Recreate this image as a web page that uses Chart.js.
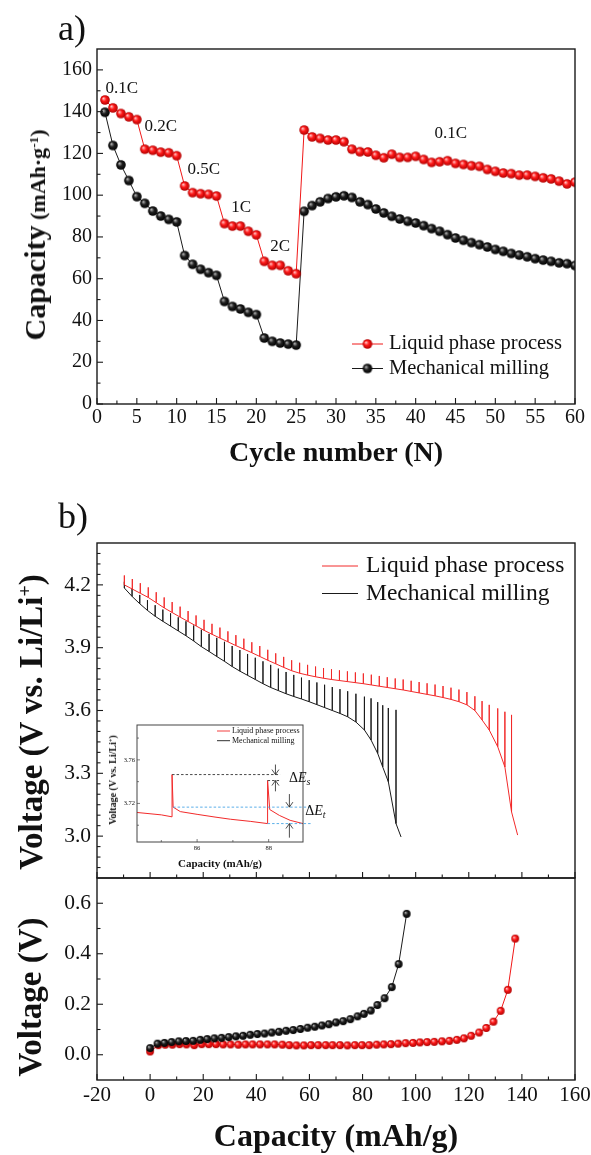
<!DOCTYPE html>
<html><head><meta charset="utf-8">
<script src="https://cdn.jsdelivr.net/npm/chart.js@4.4.1/dist/chart.umd.min.js"></script>
<style>
html,body{margin:0;padding:0;background:#fff;}
body{width:591px;height:1155px;position:relative;overflow:hidden;font-family:"Liberation Serif","Times New Roman",serif;color:#111;}
canvas{position:absolute;}
.t{position:absolute;white-space:nowrap;line-height:1;z-index:5;}
.r{transform:translate(-50%,-50%) rotate(-90deg);}
.c{transform:translate(-50%,-50%);}
sup{font-size:0.6em;vertical-align:0.55em;line-height:0;}
</style></head><body>
<canvas id="ca" width="591" height="440" style="left:0;top:0"></canvas>
<canvas id="cb" width="591" height="380" style="left:0;top:500px"></canvas>
<canvas id="cc" width="591" height="250" style="left:0;top:870px"></canvas>
<canvas id="ci" width="240" height="160" style="left:100px;top:718px"></canvas>

<div class="t" style="left:58px;top:10px;font-size:36px;">a)</div>
<div class="t" style="left:58px;top:498px;font-size:36px;">b)</div>
<div class="t c" style="left:336px;top:452px;font-size:28px;font-weight:bold;">Cycle number (N)</div>
<div class="t r" style="left:35px;top:235px;font-weight:bold;"><span style="font-size:30px">Capacity</span><span style="font-size:22px"> (mAh·g<sup>-1</sup>)</span></div>
<div class="t r" style="left:31px;top:722px;font-size:33px;font-weight:bold;">Voltage (V vs. Li/Li<sup>+</sup>)</div>
<div class="t r" style="left:30px;top:997px;font-size:33px;font-weight:bold;">Voltage (V)</div>
<div class="t c" style="left:336px;top:1135px;font-size:32px;font-weight:bold;">Capacity (mAh/g)</div>
<div class="t r" style="left:113px;top:780px;font-size:10px;font-weight:bold;">Voltage (V vs. Li/Li<sup>+</sup>)</div>
<div class="t c" style="left:220px;top:863px;font-size:11px;font-weight:bold;">Capacity (mAh/g)</div>

<script>
// ---------- Panel a: rate capability ----------
const cycles = [1,2,3,4,5,6,7,8,9,10,11,12,13,14,15,16,17,18,19,20,21,22,23,24,25,26,27,28,29,30,31,32,33,34,35,36,37,38,39,40,41,42,43,44,45,46,47,48,49,50,51,52,53,54,55,56,57,58,59,60];
const liquidCap = [145.6,141.8,139.1,137.5,136.2,122.0,121.5,120.6,120.3,118.9,104.4,101.2,100.7,100.4,99.6,86.4,85.2,85.2,82.7,81.0,68.3,66.4,66.4,63.8,62.4,
  131.2,127.9,127.2,126.4,126.4,125.6,122.0,120.8,120.7,119.1,117.9,119.6,118.1,118.1,118.6,117.1,115.7,116.0,116.5,115.2,114.7,114.1,113.8,112.3,111.4,110.6,110.3,109.6,109.6,109.0,108.3,107.8,106.7,105.4,106.2];
const millingCap = [139.7,123.8,114.5,107.0,99.3,96.1,92.4,90.0,88.4,87.2,71.1,66.9,64.5,62.9,61.6,49.1,46.7,45.5,43.9,42.8,31.6,30.0,29.2,28.7,28.2,
  92.3,95.0,96.8,98.4,99.2,99.7,98.9,96.8,95.5,93.4,91.5,89.9,88.6,87.5,86.7,85.4,84.0,82.7,81.1,79.5,78.4,77.3,76.3,75.2,74.0,73.1,72.1,71.3,70.5,69.6,68.9,68.3,67.6,67.2,66.3];
const rateLabels = [['0.1C',3.1,150.9],['0.2C',8.0,132.7],['0.5C',13.4,112.1],['1C',18.1,94.3],['2C',23.0,75.2],['0.1C',44.4,129.3]];
const aXTicks = [0,5,10,15,20,25,30,35,40,45,50,55,60];
const aXMinor = [2.5,7.5,12.5,17.5,22.5,27.5,32.5,37.5,42.5,47.5,52.5,57.5];
const aYTicks = [0,20,40,60,80,100,120,140,160];
const aYMinor = [10,30,50,70,90,110,130,150];

// ---------- Panel b (top): GITT curves ----------
const liqGCap = [-9.7,-6.7,-3.7,-0.7,2.3,5.3,8.3,11.3,14.3,17.3,20.3,23.3,26.3,29.3,32.3,35.3,38.3,41.3,44.3,47.3,50.3,53.3,56.3,59.3,62.3,65.3,68.3,71.3,74.3,77.3,80.3,83.3,86.3,89.3,92.3,95.3,98.3,101.3,104.3,107.3,110.3,113.3,116.3,119.3,122.3,125.0,127.7,130.9,133.6,136.1,138.4];
const liqGBase = [4.200,4.180,4.160,4.140,4.115,4.090,4.068,4.046,4.025,4.004,3.983,3.964,3.946,3.928,3.910,3.893,3.876,3.858,3.840,3.823,3.806,3.790,3.778,3.769,3.761,3.754,3.748,3.743,3.738,3.733,3.728,3.722,3.716,3.710,3.704,3.698,3.691,3.684,3.677,3.670,3.662,3.653,3.642,3.627,3.600,3.555,3.507,3.427,3.330,3.116,3.005];
const liqGTop = [4.245,4.228,4.208,4.188,4.165,4.140,4.118,4.096,4.075,4.054,4.033,4.014,3.996,3.978,3.960,3.943,3.926,3.908,3.890,3.873,3.856,3.840,3.828,3.818,3.810,3.803,3.797,3.792,3.787,3.782,3.777,3.771,3.765,3.759,3.753,3.748,3.742,3.736,3.730,3.724,3.717,3.709,3.700,3.688,3.668,3.645,3.627,3.610,3.594,3.579,3.005];
const milGCap = [-9.7,-6.8,-3.9,-1.0,1.9,4.8,7.7,10.6,13.5,16.4,19.3,22.2,25.1,28.0,30.9,33.8,36.7,39.6,42.5,45.4,48.3,51.2,54.1,57.0,59.9,62.8,65.7,68.6,71.5,74.4,77.5,80.7,83.2,85.7,87.6,89.7,92.6,94.5];
const milGBase = [4.185,4.145,4.110,4.078,4.050,4.026,4.003,3.980,3.957,3.932,3.905,3.882,3.858,3.835,3.810,3.788,3.768,3.748,3.728,3.710,3.695,3.680,3.667,3.655,3.642,3.628,3.614,3.600,3.586,3.570,3.545,3.507,3.459,3.395,3.330,3.260,3.060,2.996];
const milGTop = [4.215,4.182,4.152,4.127,4.103,4.082,4.064,4.045,4.026,4.006,3.986,3.966,3.947,3.928,3.908,3.889,3.870,3.852,3.835,3.818,3.800,3.784,3.770,3.757,3.745,3.734,3.723,3.712,3.702,3.692,3.680,3.666,3.658,3.640,3.625,3.612,3.603,2.996];
const bXTicks = [-20,0,20,40,60,80,100,120,140,160];
const bXMinor = [-10,10,30,50,70,90,110,130,150];
const bYTicks = [3.0,3.3,3.6,3.9,4.2];
const bYMinor = [2.85,2.9,2.95,3.05,3.1,3.15,3.2,3.25,3.35,3.4,3.45,3.5,3.55,3.65,3.7,3.75,3.8,3.85,3.95,4.0,4.05,4.1,4.15,4.25,4.3,4.35];

// ---------- Inset ----------
const insetCap = [84.32,85.00,85.30,85.30,85.33,85.53,86.00,86.50,86.93,87.50,87.97,87.97,88.03,88.30,88.60,88.96];
const insetV   = [3.7117,3.7095,3.7077,3.7465,3.7166,3.7125,3.7100,3.7075,3.7055,3.7035,3.7015,3.7410,3.7144,3.7090,3.7045,3.7015];
const insetDashBlack = [[85.30,88.32,3.7465],[87.97,88.32,3.7410]];
const insetDashBlue = [[85.33,89.20,3.7166],[87.97,89.20,3.7015]];
const insetArrows = [[88.19,3.7557,3.7465],[88.19,3.7311,3.7410],[88.58,3.7286,3.7166],[88.58,3.6886,3.7015]];
const insetDeltaE = [['s',88.57,3.7434],['t',89.02,3.7129]];
const iXTicks = [86,88];
const iXMinor = [85,87];
const iYTicks = [3.72,3.76];
const iYMinor = [3.70,3.74,3.78];

// ---------- Panel b (bottom) ----------
const liquidX = [0,3.1,5.7,8.4,11.1,13.7,16.6,19.4,22.1,24.8,27.5,30.3,33.2,35.9,38.6,41.4,44.2,46.9,49.8,52.4,55.1,57.9,60.6,63.3,66.1,68.7,71.5,74.3,77.1,79.8,82.5,85.3,88.0,90.7,93.4,96.2,99.0,101.6,104.3,107.0,109.9,112.7,115.5,118.2,120.9,123.9,126.6,129.3,132.0,134.7,137.5];
const liquidV = [0.013,0.038,0.040,0.040,0.042,0.041,0.038,0.042,0.042,0.042,0.041,0.041,0.040,0.041,0.041,0.041,0.041,0.041,0.040,0.038,0.037,0.037,0.038,0.038,0.038,0.038,0.038,0.037,0.038,0.038,0.038,0.040,0.041,0.042,0.044,0.046,0.047,0.049,0.050,0.051,0.053,0.055,0.059,0.065,0.075,0.088,0.106,0.131,0.174,0.257,0.460];
const millingX = [0,2.8,5.4,8.1,10.8,13.5,16.2,18.9,21.5,24.2,26.9,29.6,32.3,35.0,37.7,40.4,43.1,45.8,48.5,51.2,53.9,56.6,59.3,62.0,64.7,67.3,70.0,72.7,75.4,78.1,80.5,83.1,85.6,88.3,91.0,93.6,96.6];
const millingV = [0.026,0.044,0.047,0.050,0.053,0.054,0.055,0.059,0.062,0.065,0.067,0.070,0.073,0.075,0.079,0.082,0.084,0.088,0.091,0.095,0.098,0.102,0.107,0.111,0.116,0.121,0.128,0.133,0.141,0.152,0.162,0.175,0.197,0.224,0.268,0.359,0.558];
const cYTicks = [0,0.2,0.4,0.6];
const cYMinor = [0.1,0.3,0.5];

const seriesNames = ['Liquid phase process','Mechanical milling'];
const RED = '#f01818', BLK = '#1a1a1a';

// ---------- helpers ----------
Chart.defaults.font.family = '"Liberation Serif","Times New Roman",serif';
Chart.defaults.color = '#111';

function sphere(r, hi, mid, edge){
  const d = Math.ceil(r*2)+2, cv = document.createElement('canvas');
  cv.width = cv.height = d;
  const g = cv.getContext('2d'), c = d/2;
  const gr = g.createRadialGradient(c-r*0.35, c-r*0.35, r*0.05, c, c, r);
  gr.addColorStop(0, hi); gr.addColorStop(0.45, mid); gr.addColorStop(1, edge);
  g.fillStyle = gr; g.beginPath(); g.arc(c, c, r, 0, Math.PI*2); g.fill();
  return cv;
}
const sphRA = sphere(4.8,'#ffc8c8','#ff1a1a','#b00000');
const sphKA = sphere(4.8,'#b8b8b8','#202020','#000000');
const sphRC = sphere(3.9,'#ffc8c8','#ff1a1a','#b00000');
const sphKC = sphere(3.9,'#b8b8b8','#202020','#000000');

function pts(xs, ys){ return xs.map((x,i)=>({x:x, y:ys[i]})); }
function gitt(cap, base, top){
  const p = [];
  cap.forEach((c,i)=>{ p.push({x:c,y:base[i]}); if (top[i]!==base[i]) { p.push({x:c,y:top[i]}); p.push({x:c,y:base[i]}); } });
  return p;
}

function makeFrame(id, cfg){
  return { id:id, afterDatasetsDraw(chart){
    const ctx = chart.ctx, a = chart.chartArea;
    ctx.save();
    ctx.strokeStyle = cfg.color || '#1a1a1a';
    ctx.lineWidth = cfg.lw || 1.4;
    ctx.strokeRect(a.left, a.top, a.right-a.left, a.bottom-a.top);
    ctx.lineWidth = cfg.tlw || 1.1;
    cfg.ticks.forEach(t => {
      const s = chart.scales[t.axis];
      t.values.forEach(v => {
        const p = s.getPixelForValue(v);
        ctx.beginPath();
        if (t.axis === 'x') { ctx.moveTo(p, a.bottom); ctx.lineTo(p, a.bottom - t.len); }
        else { ctx.moveTo(a.left, p); ctx.lineTo(a.left + t.len, p); }
        ctx.stroke();
      });
    });
    ctx.restore();
  }};
}
function makeLegend(id, cfg){
  return { id:id, afterDraw(chart){
    const ctx = chart.ctx;
    ctx.save();
    cfg.items.forEach((it, i) => {
      const y = cfg.y + i*cfg.dy;
      ctx.strokeStyle = it.color; ctx.lineWidth = cfg.lw || 1;
      ctx.beginPath(); ctx.moveTo(cfg.x0, y); ctx.lineTo(cfg.x1, y); ctx.stroke();
      if (it.img) ctx.drawImage(it.img, (cfg.x0+cfg.x1)/2 - it.img.width/2, y - it.img.height/2);
      ctx.fillStyle = '#111'; ctx.font = cfg.font; ctx.textBaseline = 'middle'; ctx.textAlign = 'left';
      ctx.fillText(it.label, cfg.tx, y);
    });
    ctx.restore();
  }};
}
function axisCfg(o){
  const c = {
    type:'linear', min:o.min, max:o.max,
    afterBuildTicks: s => { s.ticks = o.major.map(v => ({value:v})); },
    grid:{display:false, drawTicks:false}, border:{display:false},
    ticks:{display: o.show !== false, font:{size:o.size}, color:'#111', padding:o.pad, autoSkip:false, maxRotation:0, minRotation:0, includeBounds:false, callback: o.fmt}
  };
  if (o.dir === 'x') c.afterFit = s => { s.height = o.thick; s.paddingLeft = 0; s.paddingRight = 0; };
  else c.afterFit = s => { s.width = o.thick; s.paddingTop = 0; s.paddingBottom = 0; };
  return c;
}
const baseOpts = { responsive:false, animation:false, events:[], plugins:{legend:{display:false}, tooltip:{enabled:false}} };

// ---------- Chart a ----------
const notesA = { id:'notesA', afterDatasetsDraw(chart){
  const ctx = chart.ctx, sx = chart.scales.x, sy = chart.scales.y;
  ctx.save(); ctx.fillStyle = '#111'; ctx.font = '17px "Liberation Serif"'; ctx.textAlign = 'center'; ctx.textBaseline = 'middle';
  rateLabels.forEach(l => ctx.fillText(l[0], sx.getPixelForValue(l[1]), sy.getPixelForValue(l[2])));
  ctx.restore();
}};
new Chart(document.getElementById('ca'), {
  type:'scatter',
  data:{ datasets:[
    {label:seriesNames[0], data:pts(cycles, liquidCap), showLine:true, borderColor:RED, borderWidth:1, pointStyle:sphRA, pointRadius:5, tension:0, clip:0},
    {label:seriesNames[1], data:pts(cycles, millingCap), showLine:true, borderColor:BLK, borderWidth:1, pointStyle:sphKA, pointRadius:5, tension:0, clip:0}
  ]},
  options: Object.assign({}, baseOpts, {
    layout:{padding:{left:0, top:49, right:16, bottom:0}},
    scales:{
      x: axisCfg({dir:'x', min:0, max:60, major:aXTicks, size:20, pad:2, thick:36, fmt:v=>String(v)}),
      y: axisCfg({dir:'y', min:0, max:170, major:aYTicks, size:20, pad:5, thick:97, fmt:v=>String(v)})
    }
  }),
  plugins:[ makeFrame('frameA', {ticks:[{axis:'x',values:aXTicks,len:6},{axis:'x',values:aXMinor,len:3.5},{axis:'y',values:aYTicks,len:6},{axis:'y',values:aYMinor,len:3.5}]}),
            notesA,
            makeLegend('legA', {x0:352, x1:383, tx:389, y:344, dy:24.5, font:'20.5px "Liberation Serif"', items:[{label:seriesNames[0], color:RED, img:sphRA},{label:seriesNames[1], color:BLK, img:sphKA}]}) ]
});

// ---------- Chart b top ----------
new Chart(document.getElementById('cb'), {
  type:'scatter',
  data:{ datasets:[
    {label:seriesNames[0], data:gitt(liqGCap, liqGBase, liqGTop), showLine:true, borderColor:'#f22a2a', borderWidth:1, pointRadius:0, tension:0, clip:0},
    {label:seriesNames[1], data:gitt(milGCap, milGBase, milGTop), showLine:true, borderColor:BLK, borderWidth:1, pointRadius:0, tension:0, clip:0}
  ]},
  options: Object.assign({}, baseOpts, {
    layout:{padding:{left:0, top:43, right:16, bottom:0}},
    scales:{
      x: axisCfg({dir:'x', min:-20, max:160, major:bXTicks, size:20, pad:2, thick:2, show:false, fmt:v=>String(v)}),
      y: axisCfg({dir:'y', min:2.8, max:4.4, major:bYTicks, size:21.5, pad:6, thick:97, fmt:v=>v.toFixed(1)})
    }
  }),
  plugins:[ makeFrame('frameB', {ticks:[{axis:'x',values:bXTicks,len:6},{axis:'x',values:bXMinor,len:3.5},{axis:'y',values:bYTicks,len:6},{axis:'y',values:bYMinor,len:3.5}]}),
            makeLegend('legB', {x0:322, x1:358, tx:366, y:66, dy:27.5, font:'23.5px "Liberation Serif"', items:[{label:seriesNames[0], color:'#f22a2a'},{label:seriesNames[1], color:BLK}]}) ]
});

// ---------- Chart b bottom ----------
new Chart(document.getElementById('cc'), {
  type:'scatter',
  data:{ datasets:[
    {label:seriesNames[1], data:pts(millingX, millingV), showLine:true, borderColor:BLK, borderWidth:1, pointStyle:sphKC, pointRadius:4, tension:0, clip:0},
    {label:seriesNames[0], data:pts(liquidX, liquidV), showLine:true, borderColor:RED, borderWidth:1, pointStyle:sphRC, pointRadius:4, tension:0, clip:0}
  ]},
  options: Object.assign({}, baseOpts, {
    layout:{padding:{left:0, top:8, right:16, bottom:0}},
    scales:{
      x: axisCfg({dir:'x', min:-20, max:160, major:bXTicks, size:21, pad:3, thick:40, fmt:v=>String(v)}),
      y: axisCfg({dir:'y', min:-0.1, max:0.7, major:cYTicks, size:21.5, pad:6, thick:97, fmt:v=>v.toFixed(1)})
    }
  }),
  plugins:[ makeFrame('frameC', {ticks:[{axis:'x',values:bXTicks,len:6},{axis:'x',values:bXMinor,len:3.5},{axis:'y',values:cYTicks,len:6},{axis:'y',values:cYMinor,len:3.5}]}) ]
});

// ---------- Inset ----------
const insetNotes = { id:'insetNotes', beforeDraw(chart){
  const ctx = chart.ctx, a = chart.chartArea;
  ctx.save(); ctx.fillStyle = '#fff'; ctx.fillRect(a.left, a.top, a.right-a.left, a.bottom-a.top); ctx.restore();
}, afterDraw(chart){
  const ctx = chart.ctx, sx = chart.scales.x, sy = chart.scales.y;
  ctx.save();
  ctx.lineWidth = 0.9;
  ctx.setLineDash([2.5,2]); ctx.strokeStyle = '#333';
  insetDashBlack.forEach(d => { ctx.beginPath(); ctx.moveTo(sx.getPixelForValue(d[0]), sy.getPixelForValue(d[2])); ctx.lineTo(sx.getPixelForValue(d[1]), sy.getPixelForValue(d[2])); ctx.stroke(); });
  ctx.strokeStyle = '#47a6e6';
  insetDashBlue.forEach(d => { ctx.beginPath(); ctx.moveTo(sx.getPixelForValue(d[0]), sy.getPixelForValue(d[2])); ctx.lineTo(sx.getPixelForValue(d[1]), sy.getPixelForValue(d[2])); ctx.stroke(); });
  ctx.setLineDash([]); ctx.strokeStyle = '#222'; ctx.lineWidth = 0.8;
  insetArrows.forEach(r => {
    const x = sx.getPixelForValue(r[0]), y0 = sy.getPixelForValue(r[1]), y1 = sy.getPixelForValue(r[2]);
    const d = y1 > y0 ? 1 : -1;
    ctx.beginPath(); ctx.moveTo(x, y0); ctx.lineTo(x, y1);
    ctx.moveTo(x-3.5, y1 - d*5); ctx.lineTo(x, y1); ctx.lineTo(x+3.5, y1 - d*5); ctx.stroke();
  });
  ctx.fillStyle = '#111'; ctx.textBaseline = 'middle'; ctx.textAlign = 'left';
  insetDeltaE.forEach(e => {
    let x = sx.getPixelForValue(e[1]); const y = sy.getPixelForValue(e[2]);
    ctx.font = '14px "Liberation Serif"'; ctx.fillText('\u0394', x, y); x += ctx.measureText('\u0394').width;
    ctx.font = 'italic 14px "Liberation Serif"'; ctx.fillText('E', x, y); x += ctx.measureText('E').width;
    ctx.font = 'italic 10px "Liberation Serif"'; ctx.fillText(e[0], x, y + 4);
  });
  ctx.restore();
}};
new Chart(document.getElementById('ci'), {
  type:'scatter',
  data:{ datasets:[
    {label:seriesNames[0], data:pts(insetCap, insetV), showLine:true, borderColor:'#f22a2a', borderWidth:1, pointRadius:0, tension:0, clip:0},
    {label:seriesNames[1], data:[], showLine:true, borderColor:BLK, borderWidth:1, pointRadius:0}
  ]},
  options: Object.assign({}, baseOpts, {
    layout:{padding:{left:0, top:7, right:37, bottom:0}},
    scales:{
      x: axisCfg({dir:'x', min:84.32, max:88.96, major:iXTicks, size:6.5, pad:2, thick:36, fmt:v=>String(v)}),
      y: axisCfg({dir:'y', min:3.6846, max:3.792, major:iYTicks, size:6.5, pad:2, thick:37, fmt:v=>v.toFixed(2)})
    }
  }),
  plugins:[ insetNotes,
            makeFrame('frameI', {color:'#444', lw:1, tlw:0.7, ticks:[{axis:'x',values:iXTicks,len:3},{axis:'x',values:iXMinor,len:2},{axis:'y',values:iYTicks,len:3},{axis:'y',values:iYMinor,len:2}]}),
            makeLegend('legI', {x0:117, x1:130, tx:132, y:13, dy:9.7, lw:0.9, font:'8px "Liberation Serif"', items:[{label:seriesNames[0], color:'#f22a2a'},{label:seriesNames[1], color:BLK}]}) ]
});
</script>
</body></html>
